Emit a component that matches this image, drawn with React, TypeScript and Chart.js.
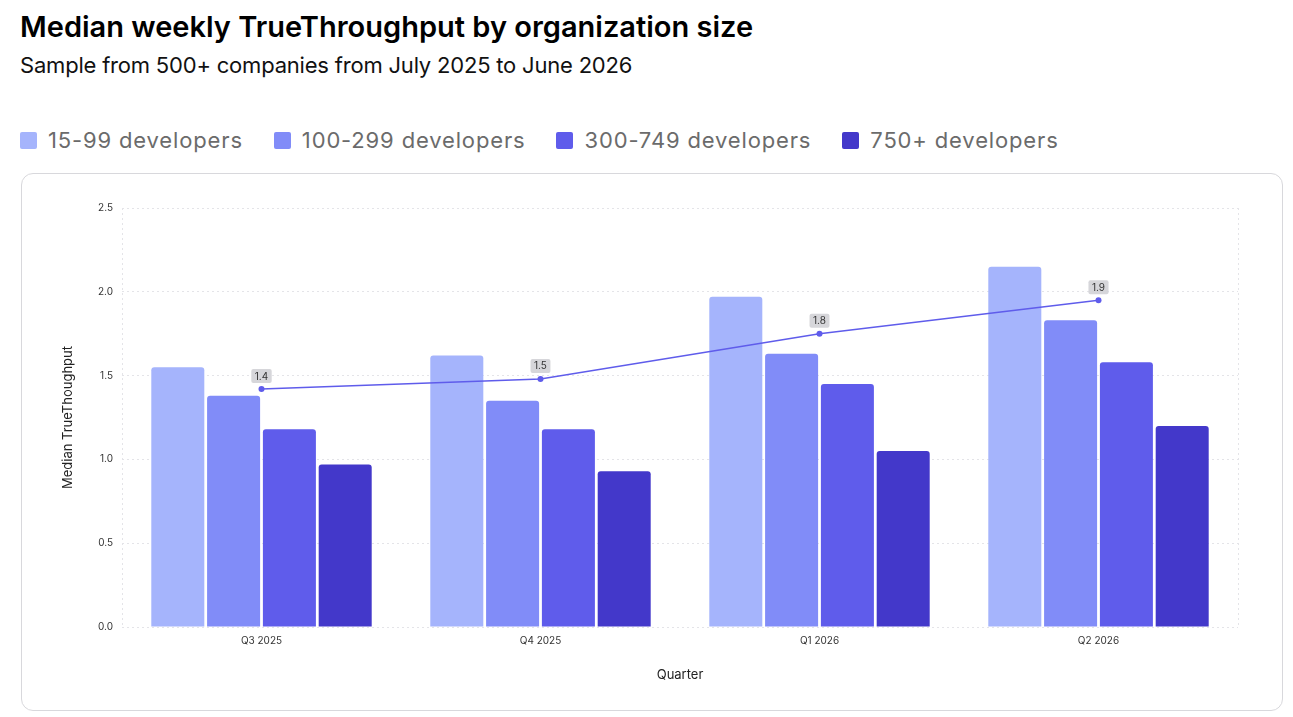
import React, { useEffect, useRef } from "react";
import { Chart, registerables } from "chart.js";

Chart.register(...registerables);

const categories = ["Q3 2025", "Q4 2025", "Q1 2026", "Q2 2026"];
const seriesNames = ["15-99 developers", "100-299 developers", "300-749 developers", "750+ developers"];
const dev15to99 = [1.55, 1.62, 1.97, 2.15];
const dev100to299 = [1.38, 1.35, 1.63, 1.83];
const dev300to749 = [1.18, 1.18, 1.45, 1.58];
const dev750plus = [0.97, 0.93, 1.05, 1.2];
const overallMedian = [1.42, 1.48, 1.75, 1.95];
const seriesColors = ["#a5b4fc", "#818cf8", "#5f5ceb", "#4338ca"];
const lineColor = "#5f5ceb";
const titleText = "Median weekly TrueThroughput by organization size";
const subtitleText = "Sample from 500+ companies from July 2025 to June 2026";
const yAxisTitle = "Median TrueThoughput";
const xAxisTitle = "Quarter";

const FONT = "Inter, 'Noto Sans', sans-serif";

const pointLabelPlugin = {
  id: "pointLabels",
  afterDatasetsDraw(chart: any) {
    const idx = chart.data.datasets.findIndex((d: any) => d.type === "line");
    if (idx < 0) return;
    const meta = chart.getDatasetMeta(idx);
    const ctx = chart.ctx;
    ctx.save();
    ctx.font = `10px ${FONT}`;
    ctx.textAlign = "center";
    ctx.textBaseline = "middle";
    meta.data.forEach((pt: any, i: number) => {
      const v = chart.data.datasets[idx].data[i] as number;
      const txt = v.toFixed(1);
      const w = ctx.measureText(txt).width + 7;
      const h = 14;
      const cx = pt.x;
      const cy = pt.y - 13;
      ctx.fillStyle = "rgba(210,210,214,0.9)";
      ctx.beginPath();
      (ctx as any).roundRect(cx - w / 2, cy - h / 2, w, h, 2);
      ctx.fill();
      ctx.fillStyle = "#333";
      ctx.fillText(txt, cx, cy + 0.5);
    });
    ctx.restore();
  },
};

const borderPlugin = {
  id: "areaSides",
  beforeDatasetsDraw(chart: any) {
    const { ctx, chartArea } = chart;
    ctx.save();
    ctx.strokeStyle = "#e4e4e8";
    ctx.lineWidth = 1;
    ctx.setLineDash([2, 3]);
    [chartArea.left, chartArea.right].forEach((x: number) => {
      ctx.beginPath();
      ctx.moveTo(Math.round(x) + 0.5, chartArea.top);
      ctx.lineTo(Math.round(x) + 0.5, chartArea.bottom);
      ctx.stroke();
    });
    ctx.restore();
  },
};

export default function App() {
  const ref = useRef<HTMLCanvasElement | null>(null);

  useEffect(() => {
    if (!ref.current) return;
    const seriesData = [dev15to99, dev100to299, dev300to749, dev750plus];
    const chart = new Chart(ref.current, {
      type: "bar",
      data: {
        labels: categories,
        datasets: [
          {
            type: "line" as any,
            label: "Median",
            data: overallMedian,
            borderColor: lineColor,
            backgroundColor: lineColor,
            borderWidth: 1.5,
            pointRadius: 3,
            pointBackgroundColor: lineColor,
            pointBorderWidth: 0,
            tension: 0,
            order: 0,
          } as any,
          ...seriesData.map((d, i) => ({
            type: "bar" as any,
            label: seriesNames[i],
            data: d,
            backgroundColor: seriesColors[i],
            borderRadius: { topLeft: 3, topRight: 3, bottomLeft: 0, bottomRight: 0 },
            borderSkipped: false,
            categoryPercentage: 0.8,
            barPercentage: 0.95,
            order: 1,
          })),
        ],
      },
      options: {
        animation: false,
        responsive: true,
        maintainAspectRatio: false,
        layout: { padding: { left: 34, top: 34, right: 44, bottom: 23 } },
        plugins: {
          legend: { display: false },
          tooltip: { enabled: false },
        },
        scales: {
          x: {
            grid: { display: false, drawTicks: false },
            border: { display: false },
            ticks: { font: { family: FONT, size: 10 }, color: "#333", padding: 8 },
            title: {
              display: true,
              text: xAxisTitle,
              font: { family: FONT, size: 13 },
              color: "#222",
            },
            afterFit(scale: any) {
              scale.height = 60;
            },
          },
          y: {
            min: 0,
            max: 2.5,
            grid: { color: "#e4e4e8", drawTicks: false } as any,
            border: { display: false, dash: [2, 3] },
            ticks: {
              stepSize: 0.5,
              font: { family: FONT, size: 10 },
              color: "#333",
              padding: 9,
              callback: (v: any) => Number(v).toFixed(1),
            },
            title: {
              display: true,
              text: yAxisTitle,
              font: { family: FONT, size: 13 },
              color: "#222",
            },
            afterFit(scale: any) {
              scale.width = 66;
            },
          },
        },
      },
      plugins: [borderPlugin, pointLabelPlugin],
    } as any);
    return () => chart.destroy();
  }, []);

  return (
    <div style={{ position: "relative", width: 1277, height: 703, fontFamily: FONT }}>
      <div
        style={{
          position: "absolute",
          left: 12,
          top: 4,
          fontSize: 29,
          lineHeight: "29px",
          fontWeight: 600,
          letterSpacing: 0,
          color: "#000",
          whiteSpace: "nowrap",
        }}
      >
        {titleText}
      </div>
      <div
        style={{
          position: "absolute",
          left: 12,
          top: 46,
          fontSize: 22,
          lineHeight: "22px",
          fontWeight: 400,
          letterSpacing: -0.2,
          color: "#111",
          whiteSpace: "nowrap",
        }}
      >
        {subtitleText}
      </div>
      <div
        style={{
          position: "absolute",
          left: 12,
          top: 121,
          display: "flex",
          alignItems: "center",
          fontSize: 22,
          lineHeight: "22px",
          letterSpacing: 0.85,
          color: "#6b6b6b",
          whiteSpace: "nowrap",
        }}
      >
        {seriesNames.map((n, i) => (
          <div key={n} style={{ display: "flex", alignItems: "center", marginRight: 31 }}>
            <span
              style={{
                display: "inline-block",
                width: 17,
                height: 17,
                borderRadius: 2,
                background: seriesColors[i],
                marginRight: 11,
              }}
            />
            <span>{n}</span>
          </div>
        ))}
      </div>
      <div
        style={{
          position: "absolute",
          left: 13,
          top: 165,
          width: 1262,
          height: 538,
          boxSizing: "border-box",
          border: "1px solid #d8d8dc",
          borderRadius: 12,
          background: "#fff",
        }}
      >
        <div style={{ position: "absolute", left: 0, top: 0, right: 0, bottom: 0 }}>
          <canvas ref={ref} />
        </div>
      </div>
    </div>
  );
}
